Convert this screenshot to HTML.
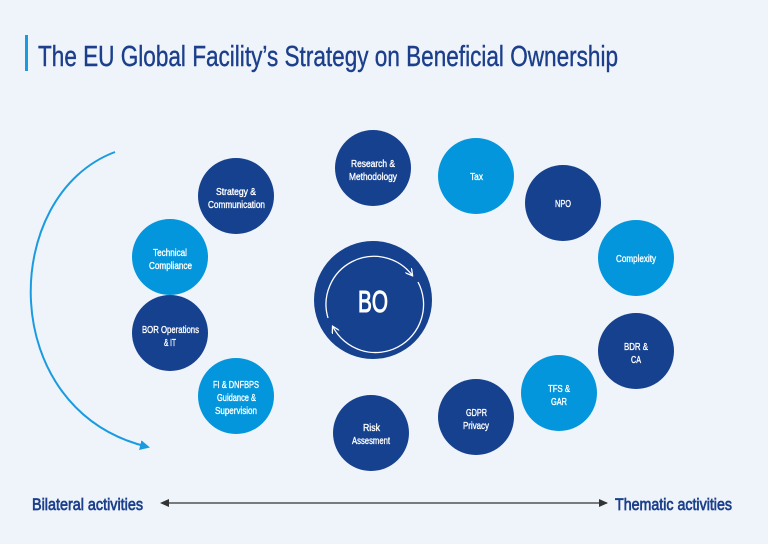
<!DOCTYPE html>
<html><head><meta charset="utf-8"><style>
html,body{margin:0;padding:0;background:#eef4fa;}
svg{display:block}
text{font-family:"Liberation Sans Narrow","Liberation Sans",sans-serif;font-weight:normal;}
</style></head><body>
<svg width="768" height="544" viewBox="0 0 768 544" xmlns="http://www.w3.org/2000/svg">
<rect width="768" height="544" fill="#eef4fa"/>
<rect x="25" y="35" width="3" height="36" fill="#1a9be0"/>
<text x="38" y="66" font-size="29" fill="#1c3f8c" stroke="#1c3f8c" stroke-width="0.4" textLength="580" lengthAdjust="spacingAndGlyphs">The EU Global Facility’s Strategy on Beneficial Ownership</text>
<defs>
<marker id="ab" markerWidth="10" markerHeight="10" refX="8" refY="5" orient="auto" markerUnits="userSpaceOnUse"><path d="M0,0 L10,5 L0,10 Z" fill="#1a9be0"/></marker>
<marker id="ak" markerWidth="9" markerHeight="8" refX="8" refY="4" orient="auto" markerUnits="userSpaceOnUse"><path d="M0,0 L9,4 L0,8 Z" fill="#333"/></marker>
<marker id="aw" markerWidth="8" markerHeight="8" refX="6" refY="4" orient="auto" markerUnits="userSpaceOnUse"><path d="M0,0 L7,4 L0,8" fill="none" stroke="#fff" stroke-width="1.3"/></marker>
</defs>
<path d="M115,152 C0,195 -5,410 148,447" fill="none" stroke="#1a9be0" stroke-width="2" marker-end="url(#ab)"/>
<line x1="162" y1="503" x2="607" y2="503" stroke="#333" stroke-width="1.3" marker-end="url(#ak)"/>
<path d="M160,503 L169,499 L169,507 Z" fill="#333"/>
<text x="32" y="510" font-size="17" fill="#1c3f8c" stroke="#1c3f8c" stroke-width="0.7" textLength="111" lengthAdjust="spacingAndGlyphs">Bilateral activities</text>
<text x="615" y="510" font-size="17" fill="#1c3f8c" stroke="#1c3f8c" stroke-width="0.7" textLength="117" lengthAdjust="spacingAndGlyphs">Thematic activities</text>
<circle cx="373" cy="300" r="59" fill="#16418f"/>
<path d="M328,318 A48,48 0 0,1 412,275" fill="none" stroke="#fff" stroke-width="1.3" marker-end="url(#aw)"/>
<path d="M418,282 A48,48 0 0,1 333,327" fill="none" stroke="#fff" stroke-width="1.3" marker-end="url(#aw)"/>
<text x="358" y="312" font-size="31" fill="#fff" stroke="#fff" stroke-width="1" textLength="30" lengthAdjust="spacingAndGlyphs">BO</text>
<g fill="#16418f">
<circle cx="236" cy="196" r="38"/><circle cx="373" cy="168" r="38"/><circle cx="563" cy="203" r="38"/><circle cx="636" cy="351" r="38"/><circle cx="476" cy="417" r="38"/><circle cx="371" cy="433" r="38"/><circle cx="170" cy="333" r="38"/>
</g>
<g fill="#0396dc">
<circle cx="476" cy="176" r="38"/><circle cx="636" cy="258" r="38"/><circle cx="559" cy="393" r="38"/><circle cx="236" cy="396" r="38"/><circle cx="170" cy="257" r="38"/>
</g>
<g font-size="10.5" fill="#fff" stroke="#fff" stroke-width="0.35" lengthAdjust="spacingAndGlyphs">
<text x="216" y="195" textLength="40" lengthAdjust="spacingAndGlyphs">Strategy &amp;</text><text x="208" y="208" textLength="57" lengthAdjust="spacingAndGlyphs">Communication</text>
<text x="351" y="167" textLength="44" lengthAdjust="spacingAndGlyphs">Research &amp;</text><text x="349" y="180" textLength="48" lengthAdjust="spacingAndGlyphs">Methodology</text>
<text x="470" y="180" textLength="13" lengthAdjust="spacingAndGlyphs">Tax</text>
<text x="555" y="207" textLength="16" lengthAdjust="spacingAndGlyphs">NPO</text>
<text x="616" y="262" textLength="40" lengthAdjust="spacingAndGlyphs">Complexity</text>
<text x="624" y="350" textLength="24" lengthAdjust="spacingAndGlyphs">BDR &amp;</text><text x="631" y="363" textLength="10" lengthAdjust="spacingAndGlyphs">CA</text>
<text x="548" y="392" textLength="22" lengthAdjust="spacingAndGlyphs">TFS &amp;</text><text x="551" y="405" textLength="16" lengthAdjust="spacingAndGlyphs">GAR</text>
<text x="466" y="416" textLength="21" lengthAdjust="spacingAndGlyphs">GDPR</text><text x="463" y="429" textLength="26" lengthAdjust="spacingAndGlyphs">Privacy</text>
<text x="363" y="431" textLength="17" lengthAdjust="spacingAndGlyphs">Risk</text><text x="352" y="444" textLength="38" lengthAdjust="spacingAndGlyphs">Assesment</text>
<text x="213" y="388" textLength="46" lengthAdjust="spacingAndGlyphs">FI &amp; DNFBPS</text><text x="217" y="401" textLength="39" lengthAdjust="spacingAndGlyphs">Guidance &amp;</text><text x="215" y="414" textLength="42" lengthAdjust="spacingAndGlyphs">Supervision</text>
<text x="142" y="333" textLength="57" lengthAdjust="spacingAndGlyphs">BOR Operations</text><text x="164" y="346" textLength="12" lengthAdjust="spacingAndGlyphs">&amp; IT</text>
<text x="153" y="256" textLength="34" lengthAdjust="spacingAndGlyphs">Technical</text><text x="149" y="269" textLength="43" lengthAdjust="spacingAndGlyphs">Compliance</text>
</g>
</svg>
</body></html>
